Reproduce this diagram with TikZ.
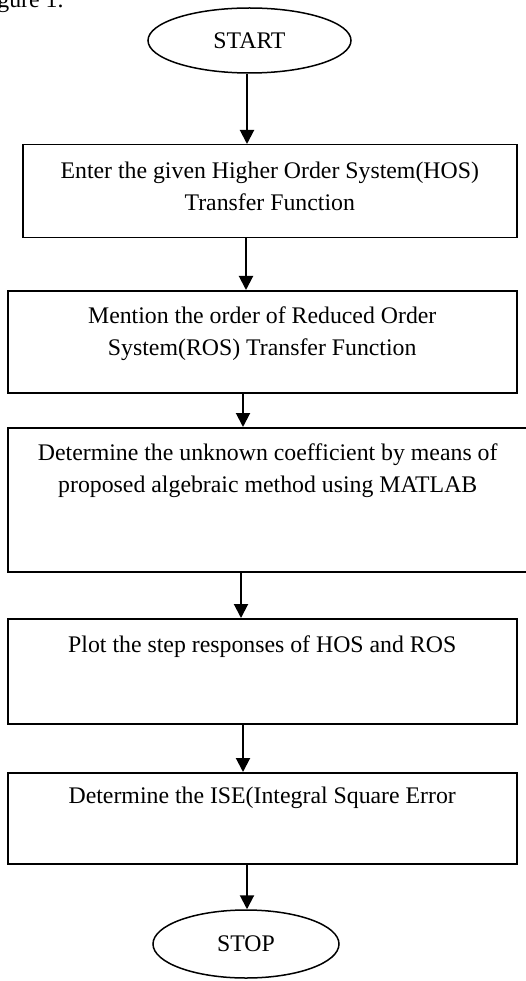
\documentclass[tikz,border=0pt]{standalone}
\usepackage{fontspec}
\setmainfont{Liberation Serif}
\usetikzlibrary{arrows.meta,shapes.geometric}
\newcommand\boxtext[4]{\parbox[c][#1][t]{#2}{\centering\rule{0pt}{#3}#4}}
\begin{document}
\begin{tikzpicture}[x=1pt,y=-1pt,
  every node/.style={font=\fontsize{23.8}{31.5}\selectfont},
  term/.style={ellipse,draw,line width=1.5pt,inner sep=0pt},
  procbox/.style={rectangle,draw,line width=1.5pt,inner sep=0pt,anchor=north west},
  flow/.style={line width=2pt,-{Triangle[width=14pt,length=14pt]}}]
\useasboundingbox (0,0) rectangle (526,981);
\node[anchor=base east] (fig) at (67,8) {Figure 1.};
\node[term,minimum width=203pt,minimum height=65pt] (start) at (249.5,40.5) {START};
\node[procbox] (b1) at (22,144) {\boxtext{93pt}{494pt}{34pt}{Enter the given Higher Order System(HOS)\\Transfer Function}};
\node[procbox] (b2) at (7,290) {\boxtext{102pt}{509pt}{33pt}{Mention the order of Reduced Order\\System(ROS) Transfer Function}};
\node[procbox] (b3) at (7,427) {\boxtext{144pt}{520pt}{33pt}{Determine the unknown coefficient by means of\\proposed algebraic method using MATLAB}};
\node[procbox] (b4) at (7,618) {\boxtext{105pt}{509pt}{34pt}{Plot the step responses of HOS and ROS}};
\node[procbox] (b5) at (7,772) {\boxtext{91pt}{509pt}{31pt}{Determine the ISE(Integral Square Error}};
\node[term,minimum width=186pt,minimum height=68pt] (stop) at (246,944) {STOP};
\draw[flow] (start.south -| 247,0) -- (b1.north -| 247,0);
\draw[flow] (b1.south -| 246,0) -- (b2.north -| 246,0);
\draw[flow] (b2.south -| 243,0) -- (b3.north -| 243,0);
\draw[flow] (b3.south -| 241,0) -- (b4.north -| 241,0);
\draw[flow] (b4.south -| 243,0) -- (b5.north -| 243,0);
\draw[flow] (b5.south -| 247,0) -- (stop.north -| 247,0);
\end{tikzpicture}
\end{document}
